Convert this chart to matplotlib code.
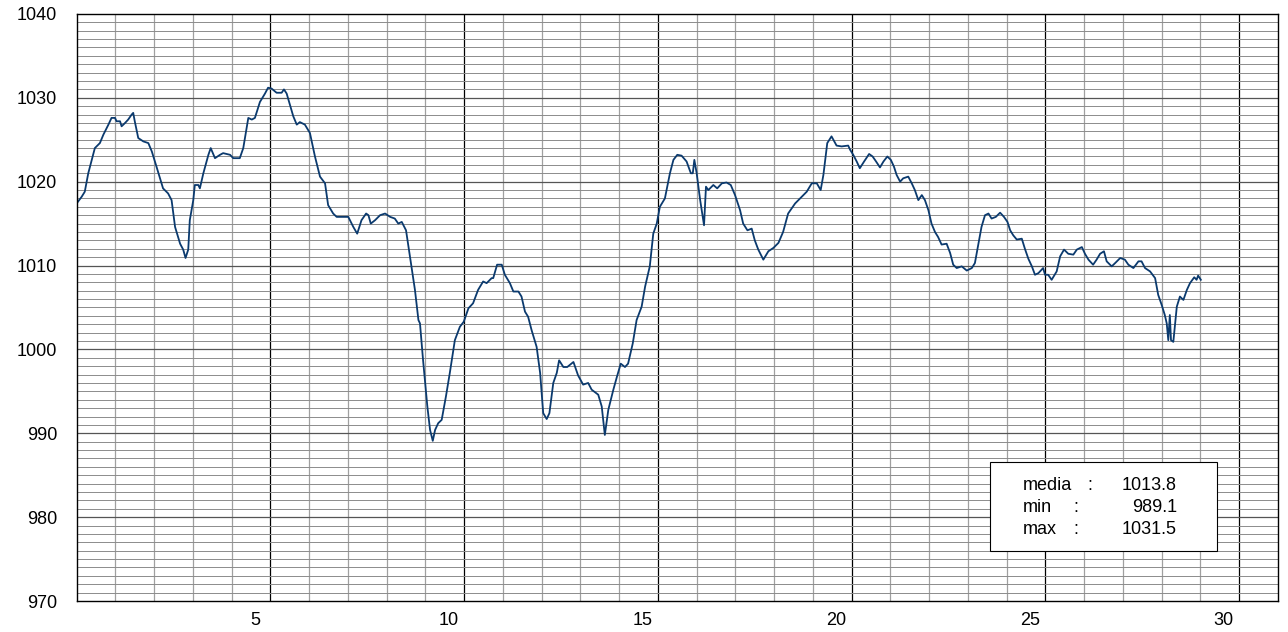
import numpy as np
import matplotlib.pyplot as plt
from matplotlib.patches import Rectangle

plt.rcParams['font.family'] = ['Liberation Sans', 'DejaVu Sans']

# giorno del mese (frazione) e pressione in hPa
giorni = [0.00, 0.13, 0.21, 0.30, 0.47, 0.60, 0.69, 0.82, 0.90, 0.99, 1.03, 1.12, 1.16, 1.25,
          1.33, 1.42, 1.46, 1.50, 1.59, 1.72, 1.85, 1.94, 2.06, 2.23, 2.36, 2.45, 2.54, 2.67,
          2.75, 2.81, 2.88, 2.92, 3.01, 3.05, 3.14, 3.18, 3.27, 3.40, 3.46, 3.57, 3.70, 3.78,
          3.96, 4.04, 4.21, 4.30, 4.43, 4.52, 4.60, 4.73, 4.86, 4.94, 5.03, 5.16, 5.29, 5.35,
          5.42, 5.59, 5.68, 5.76, 5.89, 6.02, 6.15, 6.28, 6.41, 6.49, 6.62, 6.71, 7.01, 7.14,
          7.24, 7.35, 7.47, 7.53, 7.59, 7.70, 7.83, 7.96, 8.09, 8.21, 8.30, 8.39, 8.50, 8.60,
          8.73, 8.82, 8.86, 8.94, 9.05, 9.12, 9.19, 9.25, 9.33, 9.42, 9.53, 9.63, 9.76, 9.89,
          9.99, 10.11, 10.23, 10.36, 10.49, 10.58, 10.71, 10.75, 10.85, 10.97, 11.05, 11.18,
          11.27, 11.40, 11.48, 11.57, 11.65, 11.74, 11.87, 11.96, 12.04, 12.13, 12.20, 12.30,
          12.39, 12.45, 12.56, 12.66, 12.82, 12.94, 13.07, 13.20, 13.29, 13.46, 13.55, 13.63,
          13.72, 13.85, 13.94, 14.04, 14.15, 14.23, 14.35, 14.45, 14.58, 14.67, 14.79, 14.88,
          14.97, 15.05, 15.18, 15.31, 15.40, 15.50, 15.61, 15.74, 15.85, 15.90, 15.94, 16.00,
          16.09, 16.19, 16.24, 16.30, 16.43, 16.53, 16.65, 16.77, 16.88, 16.99, 17.12, 17.20,
          17.31, 17.42, 17.50, 17.59, 17.72, 17.85, 17.98, 18.11, 18.23, 18.36, 18.54, 18.71,
          18.84, 18.97, 19.10, 19.20, 19.27, 19.37, 19.48, 19.61, 19.74, 19.91, 19.96, 20.04,
          20.13, 20.21, 20.32, 20.45, 20.54, 20.63, 20.73, 20.82, 20.92, 21.01, 21.09, 21.16,
          21.25, 21.33, 21.46, 21.55, 21.63, 21.72, 21.81, 21.89, 21.98, 22.06, 22.15, 22.23,
          22.32, 22.45, 22.54, 22.62, 22.71, 22.84, 22.97, 23.10, 23.18, 23.27, 23.35, 23.44,
          23.53, 23.61, 23.72, 23.83, 23.93, 24.02, 24.09, 24.17, 24.26, 24.39, 24.47, 24.56,
          24.65, 24.73, 24.82, 24.94, 24.99, 25.07, 25.16, 25.29, 25.38, 25.48, 25.59, 25.72,
          25.81, 25.94, 26.02, 26.11, 26.23, 26.32, 26.41, 26.51, 26.58, 26.71, 26.80, 26.93,
          27.05, 27.14, 27.27, 27.40, 27.48, 27.57, 27.70, 27.83, 27.91, 28.00, 28.08, 28.13,
          28.17, 28.21, 28.24, 28.30, 28.39, 28.47, 28.56, 28.65, 28.73, 28.84, 28.90, 28.94,
          29.01]
pressione = [1017.4, 1018.2, 1018.8, 1021.0, 1024.0, 1024.6, 1025.6, 1026.8, 1027.6, 1027.6,
             1027.2, 1027.2, 1026.6, 1027.0, 1027.4, 1028.0, 1028.2, 1027.2, 1025.2, 1024.8,
             1024.6, 1023.6, 1021.8, 1019.2, 1018.6, 1017.8, 1014.6, 1012.6, 1011.9, 1010.9,
             1011.9, 1015.4, 1017.8, 1019.6, 1019.6, 1019.2, 1021.0, 1023.2, 1024.0, 1022.8,
             1023.2, 1023.4, 1023.2, 1022.8, 1022.8, 1024.0, 1027.6, 1027.4, 1027.6, 1029.5,
             1030.5, 1031.2, 1031.1, 1030.6, 1030.6, 1031.0, 1030.5, 1027.8, 1026.8, 1027.1,
             1026.8, 1025.8, 1023.0, 1020.6, 1019.8, 1017.2, 1016.2, 1015.8, 1015.8, 1014.6,
             1013.8, 1015.4, 1016.2, 1016.0, 1015.0, 1015.4, 1016.0, 1016.2, 1015.8, 1015.6,
             1015.0, 1015.2, 1014.2, 1011.1, 1007.1, 1003.5, 1003.1, 998.7, 993.2, 990.4,
             989.1, 990.4, 991.2, 991.6, 994.4, 997.2, 1001.1, 1002.7, 1003.3, 1004.9,
             1005.5, 1007.1, 1008.1, 1007.9, 1008.5, 1008.5, 1010.1, 1010.1, 1008.9, 1007.9,
             1006.9, 1006.9, 1006.3, 1004.5, 1003.9, 1002.3, 1000.3, 997.2, 992.4, 991.7,
             992.4, 996.0, 997.2, 998.7, 997.9, 997.9, 998.5, 996.9, 995.8, 996.0,
             995.2, 994.6, 993.2, 989.8, 992.8, 995.2, 996.7, 998.3, 997.9, 998.3,
             1000.7, 1003.5, 1005.1, 1007.5, 1009.9, 1013.8, 1015.0, 1017.0, 1018.0, 1021.0,
             1022.6, 1023.2, 1023.1, 1022.4, 1021.0, 1021.0, 1022.6, 1021.0, 1017.8, 1014.8,
             1019.4, 1019.0, 1019.6, 1019.2, 1019.8, 1019.9, 1019.6, 1018.4, 1016.6, 1015.0,
             1014.2, 1014.4, 1013.0, 1011.9, 1010.7, 1011.7, 1012.1, 1012.7, 1014.0, 1016.2,
             1017.4, 1018.2, 1018.8, 1019.8, 1019.8, 1019.0, 1020.8, 1024.6, 1025.4, 1024.3,
             1024.2, 1024.3, 1023.8, 1023.2, 1022.4, 1021.6, 1022.4, 1023.3, 1023.0, 1022.4,
             1021.7, 1022.4, 1023.0, 1022.6, 1021.8, 1020.8, 1020.0, 1020.4, 1020.6, 1019.8,
             1019.0, 1017.8, 1018.4, 1017.8, 1016.6, 1015.0, 1014.0, 1013.4, 1012.5, 1012.6,
             1011.5, 1010.1, 1009.7, 1009.9, 1009.4, 1009.7, 1010.3, 1012.6, 1014.6, 1016.0,
             1016.2, 1015.6, 1015.8, 1016.3, 1015.8, 1015.2, 1014.2, 1013.6, 1013.1, 1013.2,
             1012.0, 1010.8, 1009.9, 1008.9, 1009.1, 1009.7, 1008.9, 1008.9, 1008.3, 1009.3,
             1011.1, 1011.9, 1011.4, 1011.3, 1011.9, 1012.2, 1011.4, 1010.7, 1010.1, 1010.7,
             1011.4, 1011.7, 1010.5, 1009.9, 1010.3, 1010.9, 1010.7, 1010.1, 1009.7, 1010.5,
             1010.5, 1009.7, 1009.3, 1008.5, 1006.5, 1005.3, 1004.1, 1003.1, 1001.1, 1004.1,
             1001.1, 1000.9, 1005.1, 1006.3, 1005.9, 1007.1, 1007.9, 1008.6, 1008.3, 1008.8,
             1008.3]

etichette_x = ['5', '10', '15', '20', '25', '30']
etichette_y = ['970', '980', '990', '1000', '1010', '1020', '1030', '1040']
stat_nomi = ['media', 'min', 'max']
stat_valori = ['1013.8', '989.1', '1031.5']

fig = plt.figure(figsize=(12.88, 6.32), dpi=100)
ax = fig.add_axes([0.0595, 0.049, 0.9327, 0.929])
ax.set_xlim(0, 31)
ax.set_ylim(970, 1040)

# griglia
for g in range(1, 31):
    if g % 5 == 0:
        ax.axvline(g, color='black', lw=0.9, zorder=1)
    else:
        ax.axvline(g, color='#a0a0a0', lw=0.9, zorder=1)
for h in range(971, 1040):
    if h % 10 == 0:
        ax.axhline(h, color='#555555', lw=0.9, zorder=1)
    else:
        ax.axhline(h, color='#8c8c8c', lw=0.7, zorder=1)

ax.plot(giorni, pressione, color='#0b3a6e', lw=1.3, zorder=3)

ax.set_xticks([int(e) - 0.4 for e in etichette_x])
ax.set_xticklabels(etichette_x, fontsize=13)
ax.set_yticks([int(e) for e in etichette_y])
ax.set_yticklabels(etichette_y, fontsize=13)
ax.tick_params(axis='y', length=0, pad=14)
ax.tick_params(axis='x', length=0, pad=8)
for s in ax.spines.values():
    s.set_linewidth(1.0)
    s.set_zorder(4)

# riquadro statistiche
ax.add_patch(Rectangle((0.760, 0.085), 0.189, 0.152, transform=ax.transAxes,
                       facecolor='white', edgecolor='black', lw=0.8, zorder=5))
for i in range(3):
    yy = 0.196 - i * 0.0375
    ax.text(0.7877, yy, stat_nomi[i], transform=ax.transAxes, fontsize=13, va='center', zorder=6)
    xc = 0.843 if i == 0 else 0.832
    ax.text(xc, yy, ':', transform=ax.transAxes, fontsize=13, va='center', ha='center', zorder=6)
    ax.text(0.9159, yy, stat_valori[i], transform=ax.transAxes, fontsize=13, va='center',
            ha='right', zorder=6)

fig.savefig('out.png', dpi=100)
